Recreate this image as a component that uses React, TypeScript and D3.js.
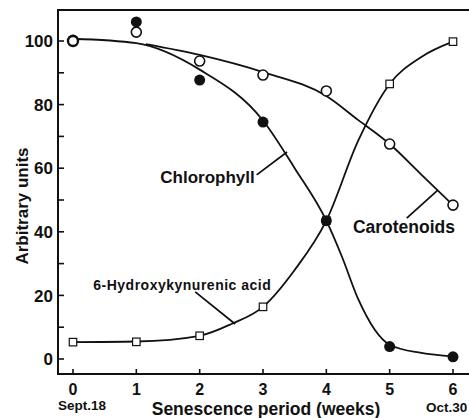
import React from "react";
import * as d3 from "d3";

const weeks = [0, 1, 2, 3, 4, 5, 6];
const chlorophyll = [100.3, 106, 87.7, 74.5, 43.5, 3.9, 0.7];
const carotenoids = [100, 102.8, 93.7, 89.3, 84.3, 67.6, 48.4];
const hydroxy = [5.3, 5.4, 7.3, 16.4, 43.5, 86.5, 99.8];

// smooth fitted curves
const chlFitX = [0, 1, 2, 3, 3.5, 4, 4.25, 4.5, 5, 5.5, 6];
const chlFitY = [100.7, 99.3, 91, 75, 60, 43.5, 32, 19, 4.5, 1.9, 0.8];
const carFitX = [1.15, 2, 3, 4, 4.5, 5, 5.5, 6];
const carFitY = [99, 95.6, 90.2, 82.7, 75.2, 67.6, 58, 48.4];
const hydFitX = [0, 1, 2, 2.5, 3, 3.5, 4, 4.5, 5, 5.5, 6];
const hydFitY = [5.3, 5.5, 7.3, 11, 16.4, 28, 43.5, 68.5, 86.5, 95, 99.8];

const xTicks = ["0", "1", "2", "3", "4", "5", "6"];
const yMajor = [0, 20, 40, 60, 80, 100];
const yMinor = [10, 30, 50, 70, 90];

const W = 469;
const H = 418;
const FONT = "'Liberation Sans', Arial, Helvetica, sans-serif";
const INK = "#111";

export default function App() {
  const x = d3.scaleLinear().domain([0, 6]).range([73, 453]);
  const y = d3.scaleLinear().domain([0, 100]).range([359, 41]);
  const left = 58;
  const top = 10;
  const bottom = 374;

  const line = d3
    .line<[number, number]>()
    .x((d) => x(d[0]))
    .y((d) => y(d[1]))
    .curve(d3.curveMonotoneX);

  const zip = (a: number[], b: number[]) => a.map((v, i) => [v, b[i]] as [number, number]);

  const sq = 7.5;

  return (
    <svg
      width={W}
      height={H}
      style={{ position: "absolute", left: 0, top: 0, background: "#fff" }}
      fontFamily={FONT}
    >
      <rect x={0} y={0} width={W} height={H} fill="#fff" />
      {/* frame */}
      <line x1={left} x2={left} y1={top - 1} y2={bottom + 1} stroke={INK} strokeWidth={2} />
      <line x1={left} x2={W} y1={top} y2={top} stroke={INK} strokeWidth={2} />
      <line x1={left} x2={W} y1={bottom} y2={bottom} stroke={INK} strokeWidth={2} />

      {/* y ticks */}
      {yMajor.map((v) => (
        <g key={"ym" + v}>
          <line x1={left} x2={left + 6} y1={y(v)} y2={y(v)} stroke={INK} strokeWidth={1.6} />
          <text
            x={53}
            y={y(v)}
            dy="0.36em"
            textAnchor="end"
            fontSize={17}
            fontWeight="bold"
            fill={INK}
          >
            {v}
          </text>
        </g>
      ))}
      {yMinor.map((v) => (
        <line key={"yn" + v} x1={left} x2={left + 6} y1={y(v)} y2={y(v)} stroke={INK} strokeWidth={1.6} />
      ))}

      {/* x ticks */}
      {weeks.map((w, i) => (
        <g key={"xt" + w}>
          <line x1={x(w)} x2={x(w)} y1={bottom} y2={bottom - 5} stroke={INK} strokeWidth={1.6} />
          <text x={x(w)} y={395} textAnchor="middle" fontSize={16} fontWeight="bold" fill={INK}>
            {xTicks[i]}
          </text>
        </g>
      ))}
      <text x={58} y={410} fontSize={13.5} fontWeight="bold" fill={INK}>
        Sept.18
      </text>
      <text x={426} y={412} fontSize={13.5} fontWeight="bold" fill={INK}>
        Oct.30
      </text>
      <text x={266} y={415} textAnchor="middle" fontSize={17.5} fontWeight="bold" fill={INK}>
        Senescence period (weeks)
      </text>
      <text
        transform={`translate(28, 206) rotate(-90)`}
        textAnchor="middle"
        fontSize={17}
        fontWeight="bold"
        fill={INK}
      >
        Arbitrary units
      </text>

      {/* curves */}
      <path d={line(zip(chlFitX, chlFitY)) || ""} fill="none" stroke={INK} strokeWidth={1.8} />
      <path d={line(zip(carFitX, carFitY)) || ""} fill="none" stroke={INK} strokeWidth={1.8} />
      <path d={line(zip(hydFitX, hydFitY)) || ""} fill="none" stroke={INK} strokeWidth={1.8} />

      {/* leaders */}
      <line x1={x(2.9)} y1={y(57.9)} x2={x(3.38)} y2={y(65.1)} stroke={INK} strokeWidth={1.8} />
      <line x1={x(5.27)} y1={y(44.3)} x2={x(5.76)} y2={y(53.1)} stroke={INK} strokeWidth={1.8} />
      <line x1={x(1.93)} y1={y(21.1)} x2={x(2.56)} y2={y(11)} stroke={INK} strokeWidth={1.8} />

      {/* labels */}
      <text x={x(2.87)} y={y(55.3)} textAnchor="end" fontSize={17} fontWeight="bold" fill={INK}>
        Chlorophyll
      </text>
      <text x={x(4.42)} y={y(39.6)} fontSize={17.5} fontWeight="bold" fill={INK}>
        Carotenoids
      </text>
      <text x={x(0.32)} y={y(21.7)} fontSize={14} fontWeight="bold" letterSpacing={0.5} fill={INK}>
        6-Hydroxykynurenic acid
      </text>

      {/* markers */}
      {weeks.map((w, i) => (
        <rect
          key={"sq" + w}
          x={x(w) - sq / 2}
          y={y(hydroxy[i]) - sq / 2}
          width={sq}
          height={sq}
          fill="#fff"
          stroke={INK}
          strokeWidth={1.2}
        />
      ))}
      {weeks.map((w, i) => (
        <circle key={"ch" + w} cx={x(w)} cy={y(chlorophyll[i])} r={5.5} fill={INK} />
      ))}
      {weeks.map((w, i) => (
        <circle
          key={"ca" + w}
          cx={x(w)}
          cy={y(carotenoids[i])}
          r={5}
          fill="#fff"
          stroke={INK}
          strokeWidth={i === 0 ? 2.4 : 1.6}
        />
      ))}
    </svg>
  );
}
